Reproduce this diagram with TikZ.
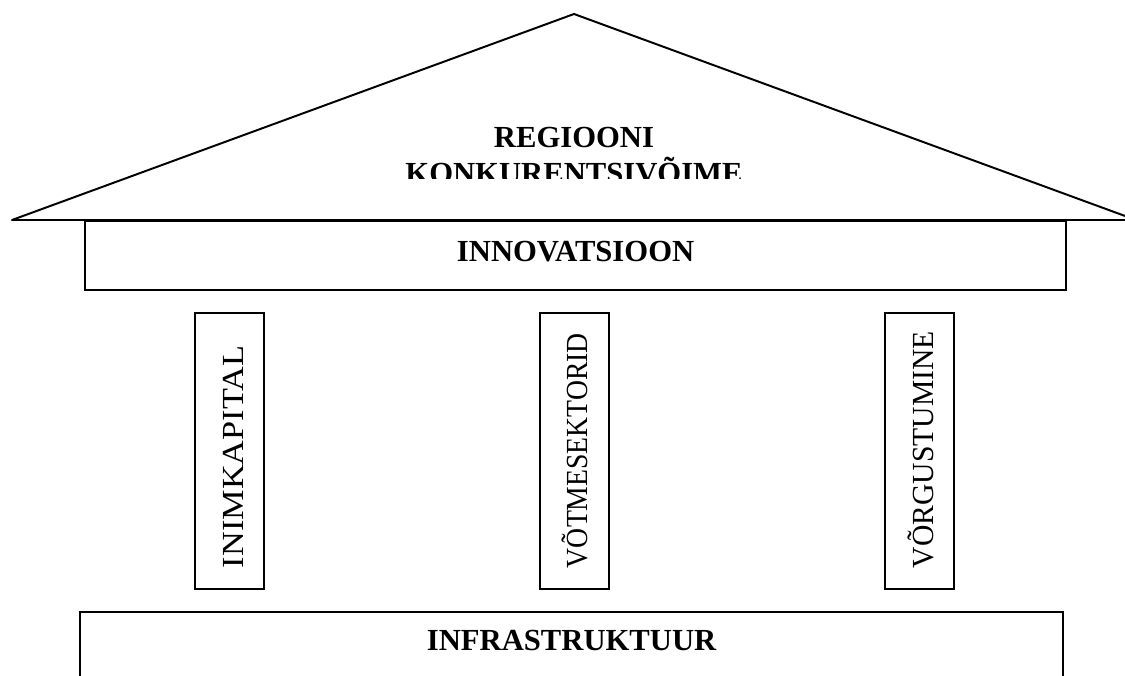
\documentclass[tikz,border=0pt]{standalone}
\usepackage{fontspec}
\setmainfont{Liberation Serif}
\usepackage{tikz}

\begin{document}
\begin{tikzpicture}[
    plank/.style={draw, black, line width=1.4pt, inner sep=0pt, anchor=north,
        font=\fontsize{21.8}{25.6}\selectfont\bfseries},
    pillar/.style={draw, black, line width=1.4pt, rotate=90, inner xsep=0.525cm,
        inner ysep=0pt, text width=5.85cm, align=left, text height=1.2cm,
        text depth=0.525cm, font=\fontsize{21.8}{25.6}\selectfont}]
    \useasboundingbox (0,0) rectangle (28.125,16.875);
    \clip (0,0) rectangle (28.125,16.875);
    % roof
    \coordinate (eaveL) at (0.3,11.375);
    \coordinate (ridge) at (14.35,16.525);
    \coordinate (eaveR) at (28.4,11.375);
    \draw[line width=1.4pt, line join=round] (eaveL) -- (ridge) -- (eaveR) -- cycle;
    \begin{scope}
        \clip (0,12.4) rectangle (28.125,16.875);
        \node[font=\fontsize{21.8}{25.6}\selectfont\bfseries, align=center,
        anchor=north, inner sep=0pt] (roof) at (14.35,13.7)
        {REGIOONI\\KONKURENTSIVÕIME};
    \end{scope}
    \node[plank, minimum width=24.525cm, text height=1.025cm, text depth=0.7cm]
    (innov) at (14.39,11.375) {INNOVATSIOON};
    % pillars
    \node[pillar] (human) at (5.74,5.6) {\resizebox{5.55cm}{\height}{INIMKAPITAL}};
    \node[pillar] (sectors) at (14.36,5.6) {\resizebox{5.875cm}{\height}{VÕTMESEKTORID}};
    \node[pillar] (network) at (22.99,5.6) {\resizebox{5.925cm}{\height}{VÕRGUSTUMINE}};
    \node[plank, minimum width=24.575cm, text height=0.975cm, text depth=1cm]
    (infra) at (14.29,1.6) {INFRASTRUKTUUR};
\end{tikzpicture}
\end{document}
